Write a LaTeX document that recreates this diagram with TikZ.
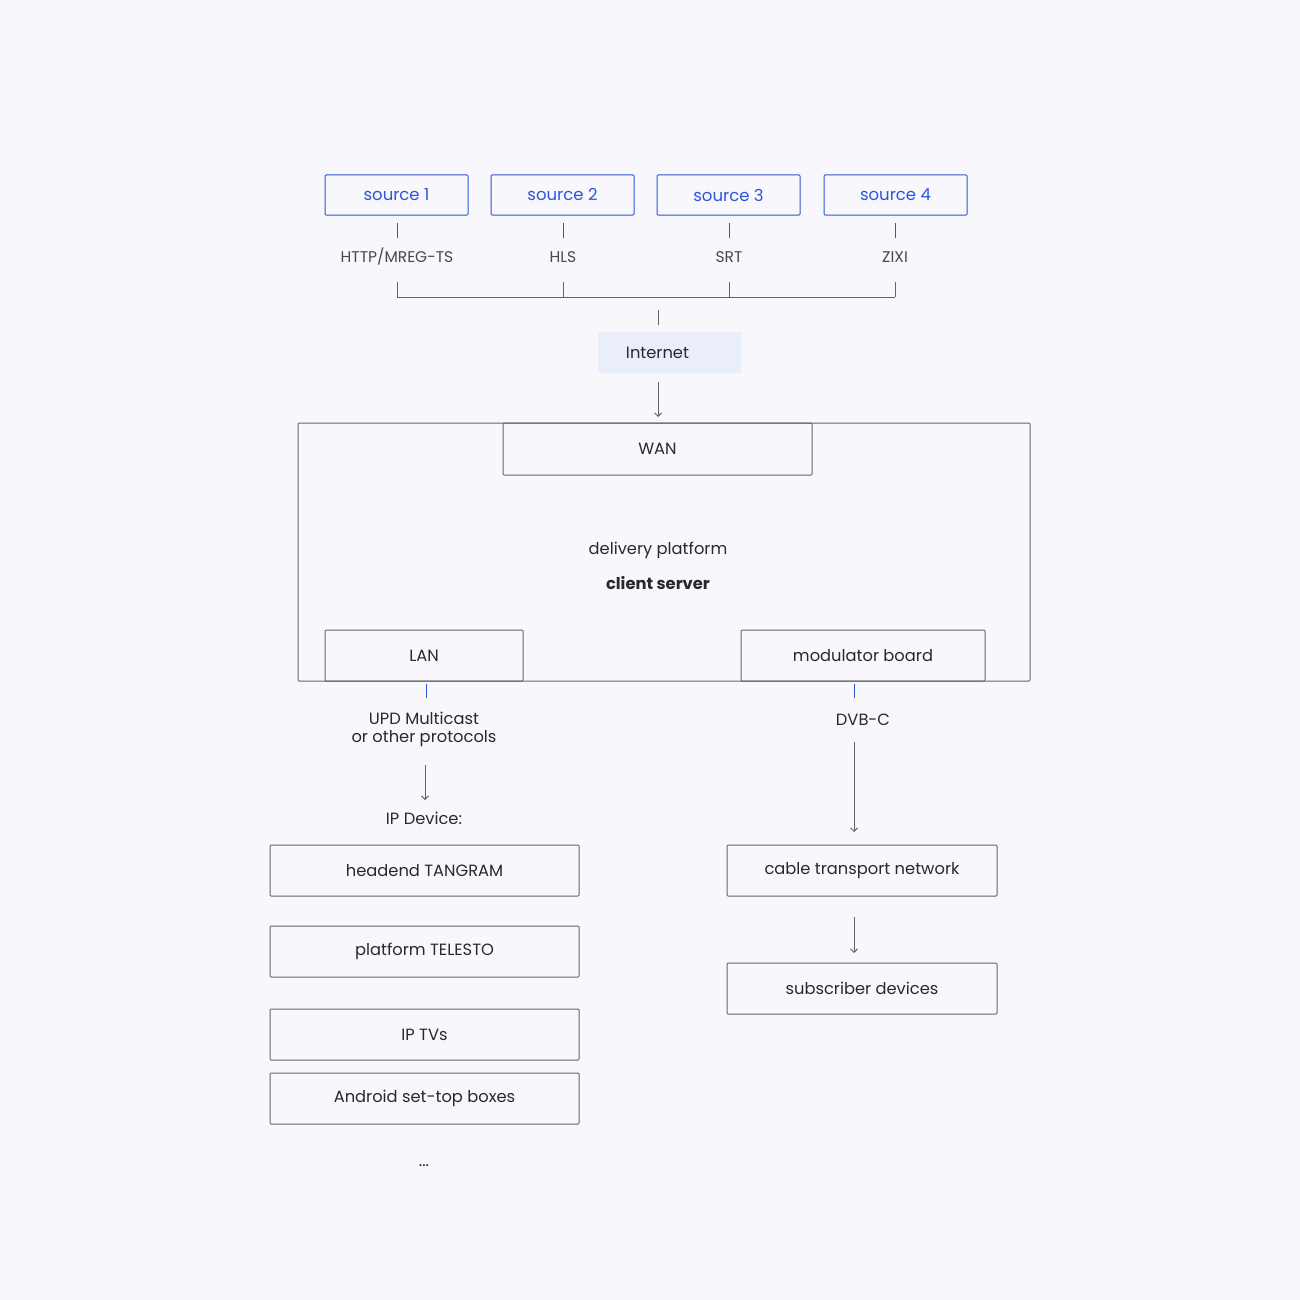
\documentclass[tikz,border=0pt]{standalone}
\usepackage{fontspec}
\setmainfont{Poppins}
\usetikzlibrary{arrows.meta}
\definecolor{bg}{RGB}{247,247,252}
\definecolor{srcblue}{RGB}{45,85,220}
\definecolor{linegray}{RGB}{100,100,106}
\definecolor{txt}{RGB}{40,40,45}
\definecolor{netfill}{RGB}{234,238,250}
\begin{document}
\begin{tikzpicture}[x=1pt,y=-1pt,
  every node/.style={font=\fontsize{16.3}{19}\selectfont, text=txt, inner sep=0pt},
  srcbox/.style={draw=srcblue, line width=1pt, rounded corners=1pt, text=srcblue, font=\fontsize{16.5}{19}\selectfont},
  gbox/.style={draw=linegray, line width=1pt, rounded corners=1pt},
  lbl/.style={font=\fontsize{15.5}{18}\selectfont, text=txt!85},
  bl/.style={draw=srcblue, line width=0.9pt},
  gl/.style={draw=linegray, line width=1pt},
  arr/.style={draw=linegray, line width=1pt, -{Straight Barb[length=3.5pt,width=7pt]}}
]
\useasboundingbox[fill=bg] (0,0) rectangle (1300,1300);
% sources
\node[srcbox, minimum width=143pt, minimum height=40pt] (s1) at (396.5,195) {source 1};
\node[srcbox, minimum width=143pt, minimum height=40pt] (s2) at (562.5,195) {source 2};
\node[srcbox, minimum width=143pt, minimum height=40pt] (s3) at (728.5,195) {source 3};
\node[srcbox, minimum width=143pt, minimum height=40pt] (s4) at (895.5,195) {source 4};
% ticks
\foreach \i/\x in {1/397,2/563,3/729,4/895}{
  \coordinate (ta\i) at (\x,223);
  \coordinate (tb\i) at (\x,238);
  \coordinate (ba\i) at (\x,282);
  \coordinate (bb\i) at (\x,297);
  \draw[bl] (ta\i) -- (tb\i);
  \draw[gl] (ba\i) -- (bb\i);
}
\node[lbl] (p1) at (397,257) {HTTP/MREG-TS};
\node[lbl] (p2) at (563,257) {HLS};
\node[lbl] (p3) at (729,257) {SRT};
\node[lbl] (p4) at (895,257) {ZIXI};
\draw[gl] (bb1) -- (bb4);
% internet
\coordinate (ia) at (658,310);
\coordinate (ib) at (658,325);
\draw[gl] (ia) -- (ib);
\node[fill=netfill, minimum width=143pt, minimum height=41pt, rounded corners=1pt] (inet) at (669.5,352.5) {\hspace*{-24pt}Internet};
% platform
\node[gbox, minimum width=732pt, minimum height=258pt] (plat) at (664,552) {};
\node[gbox, minimum width=309pt, minimum height=52pt] (wan) at (657.5,449) {WAN};
\coordinate (aa) at (658,382);
\coordinate (ab) at (658,417);
\draw[arr] (aa) -- (ab);
\node (dp) at (658,550) {delivery platform};
\node[font=\fontsize{16.3}{19}\selectfont\bfseries] (cs) at (658,583) {client server};
\node[gbox, minimum width=198pt, minimum height=51pt] (lan) at (424,655.5) {LAN};
\node[gbox, minimum width=244pt, minimum height=51pt] (mod) at (863,655.5) {modulator board};
% left branch
\coordinate (la) at (426,684);
\coordinate (lb) at (426,698);
\draw[bl] (la) -- (lb);
\node[align=center, font=\fontsize{16.3}{18}\selectfont] (upd) at (424,729) {UPD Multicast\\or other protocols};
\coordinate (lc) at (425,765);
\coordinate (ld) at (425,800);
\draw[arr] (lc) -- (ld);
\node (ipd) at (424,818) {IP Device:};
\node[gbox, minimum width=309pt, minimum height=51pt] (hd) at (424.5,870.5) {headend TANGRAM};
\node[gbox, minimum width=309pt, minimum height=51pt] (tel) at (424.5,951.5) {platform TELESTO};
\node[gbox, minimum width=309pt, minimum height=51pt] (iptv) at (424.5,1034.5) {IP TVs};
\node[gbox, minimum width=309pt, minimum height=51pt] (andr) at (424.5,1098.5) {Android set-top boxes};
\node (dots) at (424,1166) {...};
% right branch
\coordinate (ra) at (854,684);
\coordinate (rb) at (854,698);
\draw[bl] (ra) -- (rb);
\node (dvb) at (863,720) {DVB-C};
\node[gbox, minimum width=270pt, minimum height=51pt] (ctn) at (862,870.5) {cable transport network};
\node[gbox, minimum width=270pt, minimum height=51pt] (sub) at (862,988.5) {subscriber devices};
\coordinate (rc) at (854,742);
\coordinate (rd) at (854,832);
\draw[arr] (rc) -- (rd);
\coordinate (re) at (854,917);
\coordinate (rf) at (854,953);
\draw[arr] (re) -- (rf);
\end{tikzpicture}
\end{document}
